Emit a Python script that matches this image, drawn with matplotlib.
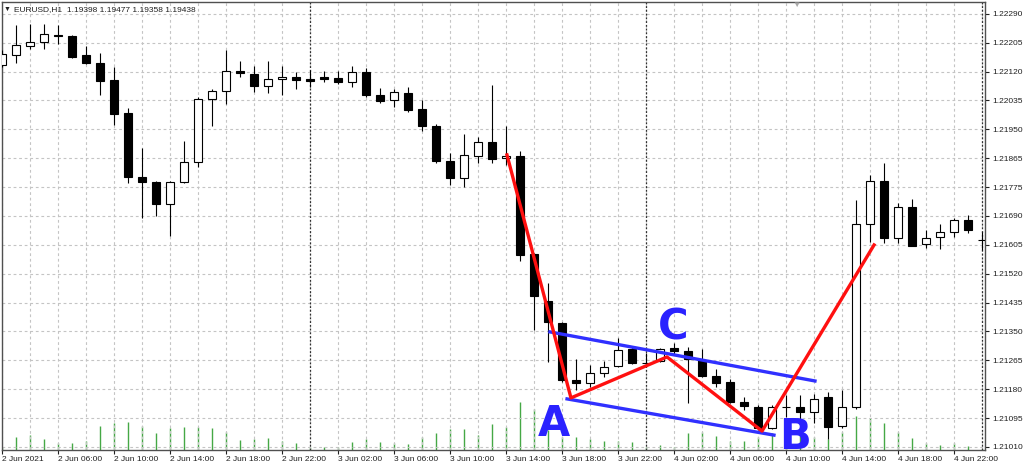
import numpy as np
import matplotlib.pyplot as plt

plt.rcParams['font.family'] = ['Liberation Sans', 'DejaVu Sans']

# EURUSD H1, 2 Jun 02:00 .. 5 Jun 00:00
opens = [1.22139, 1.22169, 1.22195, 1.22207, 1.22228, 1.22225, 1.22169, 1.22145, 1.22095, 1.21997,
         1.21808, 1.21793, 1.21728, 1.21793, 1.21852, 1.22039, 1.22062, 1.22121, 1.22113, 1.22077,
         1.22098, 1.22104, 1.22098, 1.22104, 1.22101, 1.22089, 1.22118, 1.22050, 1.22036, 1.22056,
         1.22009, 1.21959, 1.21855, 1.21805, 1.21870, 1.21912, 1.21864, 1.21870, 1.21580, 1.21442,
         1.21377, 1.21208, 1.21199, 1.21229, 1.21249, 1.21300, 1.21258, 1.21264, 1.21303, 1.21294,
         1.21267, 1.21220, 1.21202, 1.21143, 1.21128, 1.21066, 1.21128, 1.21128, 1.21113, 1.21158,
         1.21072, 1.21128, 1.21669, 1.21796, 1.21628, 1.21719, 1.21610, 1.21631, 1.21646, 1.21681,
         1.21622]
highs = [1.22184, 1.22257, 1.22260, 1.22260, 1.22257, 1.22228, 1.22195, 1.22175, 1.22133, 1.22012,
         1.21894, 1.21796, 1.21796, 1.21915, 1.22045, 1.22068, 1.22184, 1.22151, 1.22136, 1.22151,
         1.22136, 1.22118, 1.22124, 1.22121, 1.22121, 1.22136, 1.22130, 1.22071, 1.22068, 1.22074,
         1.22036, 1.21965, 1.21879, 1.21935, 1.21926, 1.22080, 1.21959, 1.21885, 1.21583, 1.21495,
         1.21380, 1.21270, 1.21252, 1.21264, 1.21332, 1.21306, 1.21288, 1.21303, 1.21317, 1.21306,
         1.21300, 1.21241, 1.21211, 1.21158, 1.21134, 1.21134, 1.21164, 1.21164, 1.21167, 1.21173,
         1.21179, 1.21740, 1.21814, 1.21849, 1.21731, 1.21743, 1.21651, 1.21669, 1.21687, 1.21696,
         1.21646]
lows = [1.22133, 1.22145, 1.22186, 1.22186, 1.22201, 1.22160, 1.22142, 1.22050, 1.21962, 1.21790,
        1.21687, 1.21693, 1.21634, 1.21790, 1.21838, 1.21959, 1.22024, 1.22104, 1.22059, 1.22056,
        1.22050, 1.22068, 1.22074, 1.22089, 1.22083, 1.22074, 1.22045, 1.22027, 1.22015, 1.22000,
        1.21944, 1.21849, 1.21784, 1.21778, 1.21849, 1.21849, 1.21844, 1.21560, 1.21356, 1.21261,
        1.21202, 1.21179, 1.21187, 1.21217, 1.21246, 1.21255, 1.21255, 1.21261, 1.21282, 1.21140,
        1.21217, 1.21187, 1.21140, 1.21119, 1.21060, 1.21063, 1.21099, 1.21084, 1.21081, 1.21034,
        1.21066, 1.21122, 1.21616, 1.21613, 1.21613, 1.21604, 1.21598, 1.21595, 1.21631, 1.21643,
        1.21592]
closes = [1.22172, 1.22198, 1.22207, 1.22231, 1.22225, 1.22163, 1.22145, 1.22092, 1.21994, 1.21808,
          1.21793, 1.21728, 1.21793, 1.21852, 1.22039, 1.22062, 1.22121, 1.22116, 1.22077, 1.22098,
          1.22104, 1.22095, 1.22092, 1.22098, 1.22089, 1.22118, 1.22050, 1.22033, 1.22059, 1.22006,
          1.21959, 1.21855, 1.21805, 1.21873, 1.21912, 1.21861, 1.21870, 1.21578, 1.21456, 1.21380,
          1.21208, 1.21199, 1.21229, 1.21246, 1.21297, 1.21258, 1.21258, 1.21300, 1.21294, 1.21270,
          1.21220, 1.21199, 1.21143, 1.21131, 1.21066, 1.21128, 1.21128, 1.21113, 1.21152, 1.21069,
          1.21128, 1.21669, 1.21796, 1.21628, 1.21719, 1.21604, 1.21628, 1.21646, 1.21681, 1.21651,
          1.21622]
volumes = [300, 1300, 1500, 1100, 700, 700, 900, 2400, 2700, 2800,
           2400, 1700, 2200, 2300, 2300, 2200, 1800, 1000, 1100, 1200,
           900, 700, 300, 300, 300, 800, 1100, 800, 700, 600,
           1300, 1700, 2100, 2100, 1500, 2600, 2300, 4800, 4100, 2000,
           1300, 1300, 1100, 900, 900, 800, 300, 500, 300, 1700,
           1800, 1400, 900, 900, 1300, 1700, 2000, 2000, 1300, 1100,
           1800, 3400, 3200, 2700, 1800, 1200, 700, 500, 700, 400,
           100]

x_labels = ['2 Jun 2021', '2 Jun 06:00', '2 Jun 10:00', '2 Jun 14:00', '2 Jun 18:00', '2 Jun 22:00',
            '3 Jun 02:00', '3 Jun 06:00', '3 Jun 10:00', '3 Jun 14:00', '3 Jun 18:00', '3 Jun 22:00',
            '4 Jun 02:00', '4 Jun 06:00', '4 Jun 10:00', '4 Jun 14:00', '4 Jun 18:00', '4 Jun 22:00']
y_labels = ['1.21010', '1.21095', '1.21180', '1.21265', '1.21350', '1.21435', '1.21520', '1.21605',
            '1.21690', '1.21775', '1.21865', '1.21950', '1.22035', '1.22120', '1.22205', '1.22290']
day_breaks = [22, 46, 70]

# hand drawn pattern (bar index, price)
zigzag_x = [36.07, 40.64, 47.5, 54.29, 62.29]
zigzag_y = [1.21873, 1.21155, 1.21276, 1.21057, 1.21607]
upper_x = [39.14, 58.07]
upper_y = [1.21350, 1.21205]
lower_x = [40.36, 55.14]
lower_y = [1.21152, 1.21045]
letters = ['A', 'C', 'B']
letter_x = [39.43, 47.93, 56.64]
letter_y = [1.21078, 1.21362, 1.21040]

o = np.array(opens)
c = np.array(closes)
idx = np.arange(len(o))

fig = plt.figure(figsize=(10.24, 4.65), dpi=100)
ax = fig.add_axes([2/1024, 15/465, 983/1024, 448/465])
axv = ax.twinx()
ax.set_zorder(axv.get_zorder() + 1)
ax.patch.set_visible(False)

axv.vlines(idx, 0, volumes, color='#45a845', lw=1.0)
axv.set_ylim(0, 44800)
axv.set_yticks([])
for s in axv.spines.values():
    s.set_visible(False)

ax.vlines(idx, lows, highs, color='black', lw=0.8, zorder=3)
body_col = ['white' if cc >= oo else 'black' for oo, cc in zip(o, c)]
ax.bar(idx, np.abs(c - o), 0.64, bottom=np.minimum(o, c), color=body_col,
       edgecolor='black', linewidth=0.8, zorder=4)

ax.plot(upper_x, upper_y, color='#3030ff', lw=2.4, zorder=6)
ax.plot(lower_x, lower_y, color='#3030ff', lw=2.4, zorder=6)
ax.plot(zigzag_x, zigzag_y, color='#ff1010', lw=2.4, zorder=7)
for t, lx, ly in zip(letters, letter_x, letter_y):
    ax.text(lx, ly, t, color='#2a22ff', fontsize=30, fontweight='bold', family='DejaVu Sans',
            ha='center', va='center', zorder=8)

for d in day_breaks:
    ax.axvline(d, color='#303030', lw=0.9, ls=(0, (1.5, 1.5)), zorder=2)

ax.set_xlim(0, 983/14)
ax.set_ylim(1.21001, 1.22325)
ax.set_xticks(range(0, 69, 4))
ax.set_xticklabels(x_labels, ha='left')
ax.set_xticks(range(0, 71, 2), minor=True)
ax.set_yticks(np.linspace(1.21010, 1.22290, 16))
ax.set_yticklabels(y_labels)
ax.yaxis.tick_right()

ax.grid(True, which='both', axis='x', color='#c4c4c4', lw=0.8, ls=(0, (2.5, 2.5)))
ax.grid(True, axis='y', color='#c4c4c4', lw=0.8, ls=(0, (2.5, 2.5)))
ax.set_axisbelow(True)
ax.tick_params(axis='x', which='minor', length=0)
ax.tick_params(axis='x', which='major', length=3, width=0.8, pad=1.5, labelsize=6, colors='#202020')
ax.tick_params(axis='y', length=3, width=0.8, pad=2, labelsize=6, colors='#202020')
for s in ax.spines.values():
    s.set_color('#505050')
    s.set_linewidth(1.0)

fig.text(7/1024, 1 - 9.5/465, '▼', fontsize=5, va='center', ha='center', color='#202020')
fig.text(14/1024, 1 - 9.5/465, 'EURUSD,H1  1.19398 1.19477 1.19358 1.19438',
         fontsize=6, va='center', color='#202020')
fig.text(796/1024, 1 - 5/465, '▼', fontsize=6, va='center', ha='center', color='#a8a8a8')

fig.savefig('out.png', dpi=100)
